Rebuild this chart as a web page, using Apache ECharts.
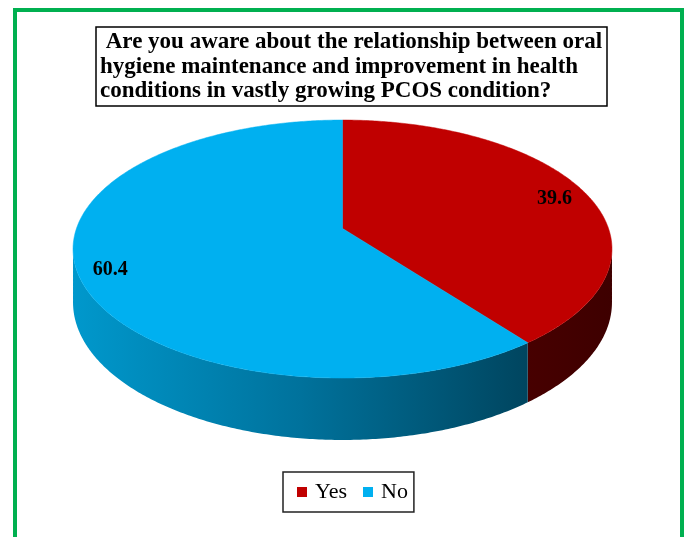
<!DOCTYPE html>
<html><head><meta charset="utf-8">
<script src="https://cdn.jsdelivr.net/npm/echarts/dist/echarts.min.js"></script>
<style>html,body{margin:0;padding:0;background:#fff}#c{width:686px;height:537px}</style>
</head><body><div id="c"></div>
<script>
const titleLines = [' Are you aware about the relationship between oral', 'hygiene maintenance and improvement in health', 'conditions in vastly growing PCOS condition?'];
const categories = ['Yes', 'No'];
const values = [39.6, 60.4];

// styles
const topColors = ['#C00000', '#00B0F0'];
const sideFills = [
  {type: 'linear', x: 500, y: 0, x2: 612, y2: 0, global: true, colorStops: [{offset: 0, color: '#4a0000'}, {offset: 1, color: '#3e0000'}]},
  {type: 'linear', x: 73, y: 0, x2: 528, y2: 0, global: true, colorStops: [{offset: 0, color: '#0098CC'}, {offset: 0.5, color: '#00729C'}, {offset: 1, color: '#00455F'}]}
];
// projection of a tilted disk with perspective
const P = {cx: 342.5, cy: 228.4, A: 266, B: 125.7, k: 0.16, H: 52};
const total = values.reduce((a, b) => a + b, 0);

function proj(r, phi, drop) {
  const s = Math.sin(phi), c = Math.cos(phi);
  const d = 1 + P.k * r * s;
  return [P.cx + P.A * r * c / d, P.cy - (P.B * r * s - (drop || 0)) / d];
}
function arc(from, to, drop) {
  const pts = [];
  const n = Math.max(2, Math.ceil(Math.abs(to - from) / 0.01));
  for (let j = 0; j <= n; j++) pts.push(proj(1, from + (to - from) * j / n, drop));
  return pts;
}
const phiL = -Math.PI + Math.asin(P.k), phiR = -Math.asin(P.k);

function makeRender(i) {
  return function (params, api) {
    const v = api.value(0);
    let before = 0;
    for (let j = 0; j < i; j++) before += values[j];
    const a0 = Math.PI / 2 - 2 * Math.PI * before / total;
    const a1 = a0 - 2 * Math.PI * v / total;
    const children = [];
    // side wall
    [-2 * Math.PI, 0, 2 * Math.PI].forEach(off => {
      const hi = Math.min(a0 + off, phiR), lo = Math.max(a1 + off, phiL);
      if (lo < hi) {
        const pts = arc(hi, lo, 0).concat(arc(lo, hi, P.H));
        children.push({type: 'polygon', shape: {points: pts}, style: {fill: sideFills[i], stroke: null}});
      }
    });
    // top face
    const top = [proj(0, 0, 0)].concat(arc(a0, a1, 0));
    children.push({type: 'polygon', shape: {points: top}, style: {fill: topColors[i], stroke: topColors[i], lineWidth: 0.5}});
    const mid = (a0 + a1) / 2;
    const lp = proj(0.88, mid, 0);
    children.push({type: 'text', x: lp[0], y: lp[1] + 4, z2: 10, style: {text: v.toFixed(1), fill: '#000', fontFamily: 'Liberation Serif', fontWeight: 'bold', fontSize: 20, align: 'center', verticalAlign: 'middle'}});
    return {type: 'group', children: children};
  };
}

const chart = echarts.init(document.getElementById('c'));
chart.setOption({
  animation: false,
  backgroundColor: '#fff',
  title: {
    text: titleLines.join('\n'), left: 96, top: 27,
    borderColor: '#000', borderWidth: 1.5, padding: [3, 5, 3, 4],
    textStyle: {fontFamily: 'Liberation Serif', fontSize: 23, fontWeight: 'bold', color: '#000', lineHeight: 24.5}
  },
  legend: {
    data: categories, left: 283, top: 472, icon: 'rect', itemWidth: 10, itemHeight: 10, itemGap: 16,
    borderColor: '#222', borderWidth: 1.5, padding: [9, 6, 9, 14], selectedMode: false,
    textStyle: {fontFamily: 'Liberation Serif', fontSize: 22, color: '#000', padding: [0, 0, 0, 3]}
  },
  graphic: [{type: 'rect', shape: {x: 15, y: 10, width: 667, height: 560}, style: {fill: 'none', stroke: '#00B050', lineWidth: 4}, silent: true}],
  series: categories.map((name, i) => ({
    type: 'custom', name: name, coordinateSystem: 'none', silent: true,
    itemStyle: {color: topColors[i]},
    data: [[values[i]]],
    renderItem: makeRender(i)
  }))
});
</script></body></html>
